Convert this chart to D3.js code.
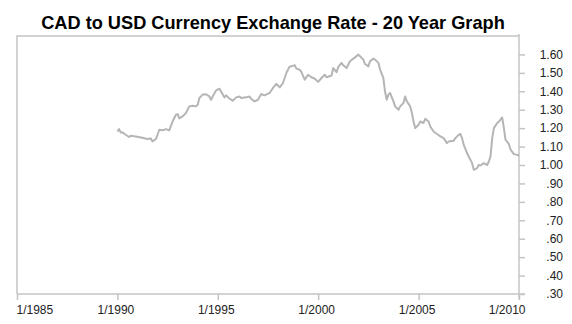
<!DOCTYPE html>
<html>
<head>
<meta charset="utf-8">
<script src="https://cdn.jsdelivr.net/npm/d3@7"></script>
<style>
  body { margin: 0; background: #fff; }
  svg { display: block; font-family: "Liberation Sans", Arial, sans-serif; }
</style>
</head>
<body>
<svg id="chart" width="572" height="324"></svg>
<script>
// data
var dates = [
  '1990-01','1990-02','1990-03','1990-04','1990-06','1990-08','1990-09','1990-12',
  '1991-04','1991-07','1991-09','1991-10','1991-12',
  '1992-01','1992-02','1992-04','1992-06','1992-08','1992-10','1992-12',
  '1993-01','1993-02','1993-04','1993-06','1993-08','1993-10','1993-12',
  '1994-01','1994-02','1994-04','1994-06','1994-08','1994-09','1994-10','1994-12',
  '1995-02','1995-03','1995-05','1995-06','1995-08','1995-10','1995-12',
  '1996-02','1996-03','1996-06','1996-08','1996-09','1996-11',
  '1997-01','1997-03','1997-05','1997-08','1997-10','1997-12',
  '1998-02','1998-04','1998-06','1998-08','1998-09','1998-11','1998-12',
  '1999-02','1999-03','1999-05','1999-07','1999-09','1999-11',
  '2000-01','2000-03','2000-05','2000-06','2000-09','2000-10','2000-12',
  '2001-01','2001-03','2001-04','2001-06','2001-08','2001-10','2001-11',
  '2002-01','2002-02','2002-04','2002-05','2002-07','2002-08','2002-10','2002-11',
  '2003-01','2003-02','2003-04','2003-05','2003-06','2003-07','2003-08','2003-10','2003-11',
  '2004-01','2004-02','2004-04','2004-05','2004-06','2004-08','2004-09','2004-10','2004-11',
  '2005-01','2005-02','2005-04','2005-05','2005-07','2005-08','2005-10','2005-12',
  '2006-02','2006-04','2006-06','2006-07','2006-10','2006-11',
  '2007-01','2007-02','2007-03','2007-04','2007-06','2007-07','2007-09','2007-10','2007-12',
  '2008-01','2008-02','2008-04','2008-06','2008-07','2008-08','2008-09','2008-10','2008-12',
  '2009-01','2009-03','2009-04','2009-05','2009-07','2009-08','2009-10','2009-12',
  '2010-01'
];

var rates = [
  1.182,1.195,1.177,1.178,1.164,1.152,1.159,1.155,
  1.148,1.141,1.144,1.128,1.141,
  1.164,1.191,1.188,1.195,1.188,1.236,1.273,
  1.276,1.253,1.264,1.282,1.318,1.322,1.318,
  1.327,1.364,1.382,1.384,1.372,1.354,1.372,1.405,
  1.414,1.399,1.367,1.378,1.360,1.349,1.367,
  1.372,1.364,1.367,1.372,1.358,1.345,
  1.354,1.385,1.378,1.391,1.418,1.440,
  1.421,1.445,1.499,1.535,1.535,1.541,1.523,
  1.517,1.505,1.463,1.490,1.476,1.468,
  1.451,1.472,1.490,1.476,1.486,1.526,1.504,
  1.532,1.554,1.541,1.526,1.563,1.577,1.584,
  1.599,1.590,1.572,1.548,1.535,1.563,1.577,1.572,
  1.554,1.517,1.472,1.399,1.354,1.382,1.391,1.345,1.318,
  1.300,1.318,1.336,1.372,1.345,1.318,1.282,1.236,1.200,
  1.218,1.236,1.228,1.251,1.236,1.209,1.182,1.168,
  1.155,1.146,1.119,1.128,1.132,1.146,
  1.164,1.168,1.146,1.110,1.065,1.046,1.010,0.974,0.983,
  1.001,0.997,1.010,1.000,1.019,1.046,1.146,1.200,1.228,
  1.236,1.258,1.200,1.137,1.114,1.083,1.059,1.055,
  1.050
];

var xTicks = ['1985-01','1990-01','1995-01','2000-01','2005-01','2010-01'];
var yTicks = [0.3,0.4,0.5,0.6,0.7,0.8,0.9,1.0,1.1,1.2,1.3,1.4,1.5,1.6];

var parseMonth = d3.timeParse('%Y-%m');

function makeChart() {
  var chart = d3.select('#chart');
  chart.selectAll('*').remove();

  var left = 17, right = 519, top = 36, bottom = 294;
  var frameColor = '#c4c4c4';

  var x = d3.scaleTime()
    .domain([parseMonth('1985-01'), parseMonth('2010-01')])
    .range([left, right]);

  var y = d3.scaleLinear()
    .domain([0.3, 1.7])
    .range([bottom, top]);

  // Title
  chart.append('text')
    .attr('x', 273)
    .attr('y', 29)
    .attr('text-anchor', 'middle')
    .attr('font-size', 18.2)
    .attr('font-weight', 'bold')
    .attr('fill', '#000')
    .text('CAD to USD Currency Exchange Rate - 20 Year Graph');

  // Frame (top + left)
  chart.append('path')
    .attr('d', 'M' + left + ',' + bottom + 'V' + top + 'H' + right)
    .attr('fill', 'none')
    .attr('stroke', frameColor)
    .attr('stroke-width', 1.5);

  // X axis
  var xAxis = chart.append('g')
    .attr('transform', 'translate(0,' + bottom + ')')
    .call(d3.axisBottom(x)
      .tickValues(xTicks.map(parseMonth))
      .tickSize(6)
      .tickSizeOuter(0)
      .tickPadding(5)
      .tickFormat(d3.timeFormat('%-m/%Y')));

  xAxis.select('.domain')
    .attr('d', 'M' + left + ',0H' + (right + 6))
    .attr('stroke', frameColor)
    .attr('stroke-width', 1.5);
  xAxis.selectAll('.tick line').attr('stroke', frameColor).attr('stroke-width', 1.5);
  xAxis.selectAll('.tick text')
    .attr('font-size', 12)
    .attr('font-family', '"Liberation Sans", Arial, sans-serif')
    .attr('fill', '#222')
    .attr('dx', -2);
  xAxis.selectAll('.tick text').filter(function(d, i) { return i === 0; })
    .attr('text-anchor', 'start').attr('dx', -1);
  xAxis.selectAll('.tick text').filter(function(d, i) { return i === xTicks.length - 1; })
    .attr('text-anchor', 'end').attr('dx', 6);

  // Y axis (right side)
  var yAxis = chart.append('g')
    .attr('transform', 'translate(' + right + ',0)')
    .call(d3.axisRight(y)
      .tickValues(yTicks)
      .tickSize(6)
      .tickSizeOuter(0)
      .tickFormat(function(d) { return d3.format('.2f')(d).replace(/^0/, ''); }));

  yAxis.select('.domain')
    .attr('d', 'M0,' + (top - 2) + 'V' + (bottom + 5))
    .attr('stroke', frameColor)
    .attr('stroke-width', 1.5);
  yAxis.selectAll('.tick line').attr('stroke', frameColor).attr('stroke-width', 1.5);
  yAxis.selectAll('.tick text')
    .attr('x', 44)
    .attr('text-anchor', 'end')
    .attr('font-size', 12)
    .attr('font-family', '"Liberation Sans", Arial, sans-serif')
    .attr('fill', '#222');

  // Rate line
  var points = dates.map(function(d, i) { return {date: parseMonth(d), value: rates[i]}; });

  var line = d3.line()
    .x(function(d) { return x(d.date); })
    .y(function(d) { return y(d.value); });

  chart.append('path')
    .datum(points)
    .attr('fill', 'none')
    .attr('stroke', '#b5b5b5')
    .attr('stroke-width', 2)
    .attr('stroke-linejoin', 'round')
    .attr('d', line);
}

makeChart();
</script>
</body>
</html>
